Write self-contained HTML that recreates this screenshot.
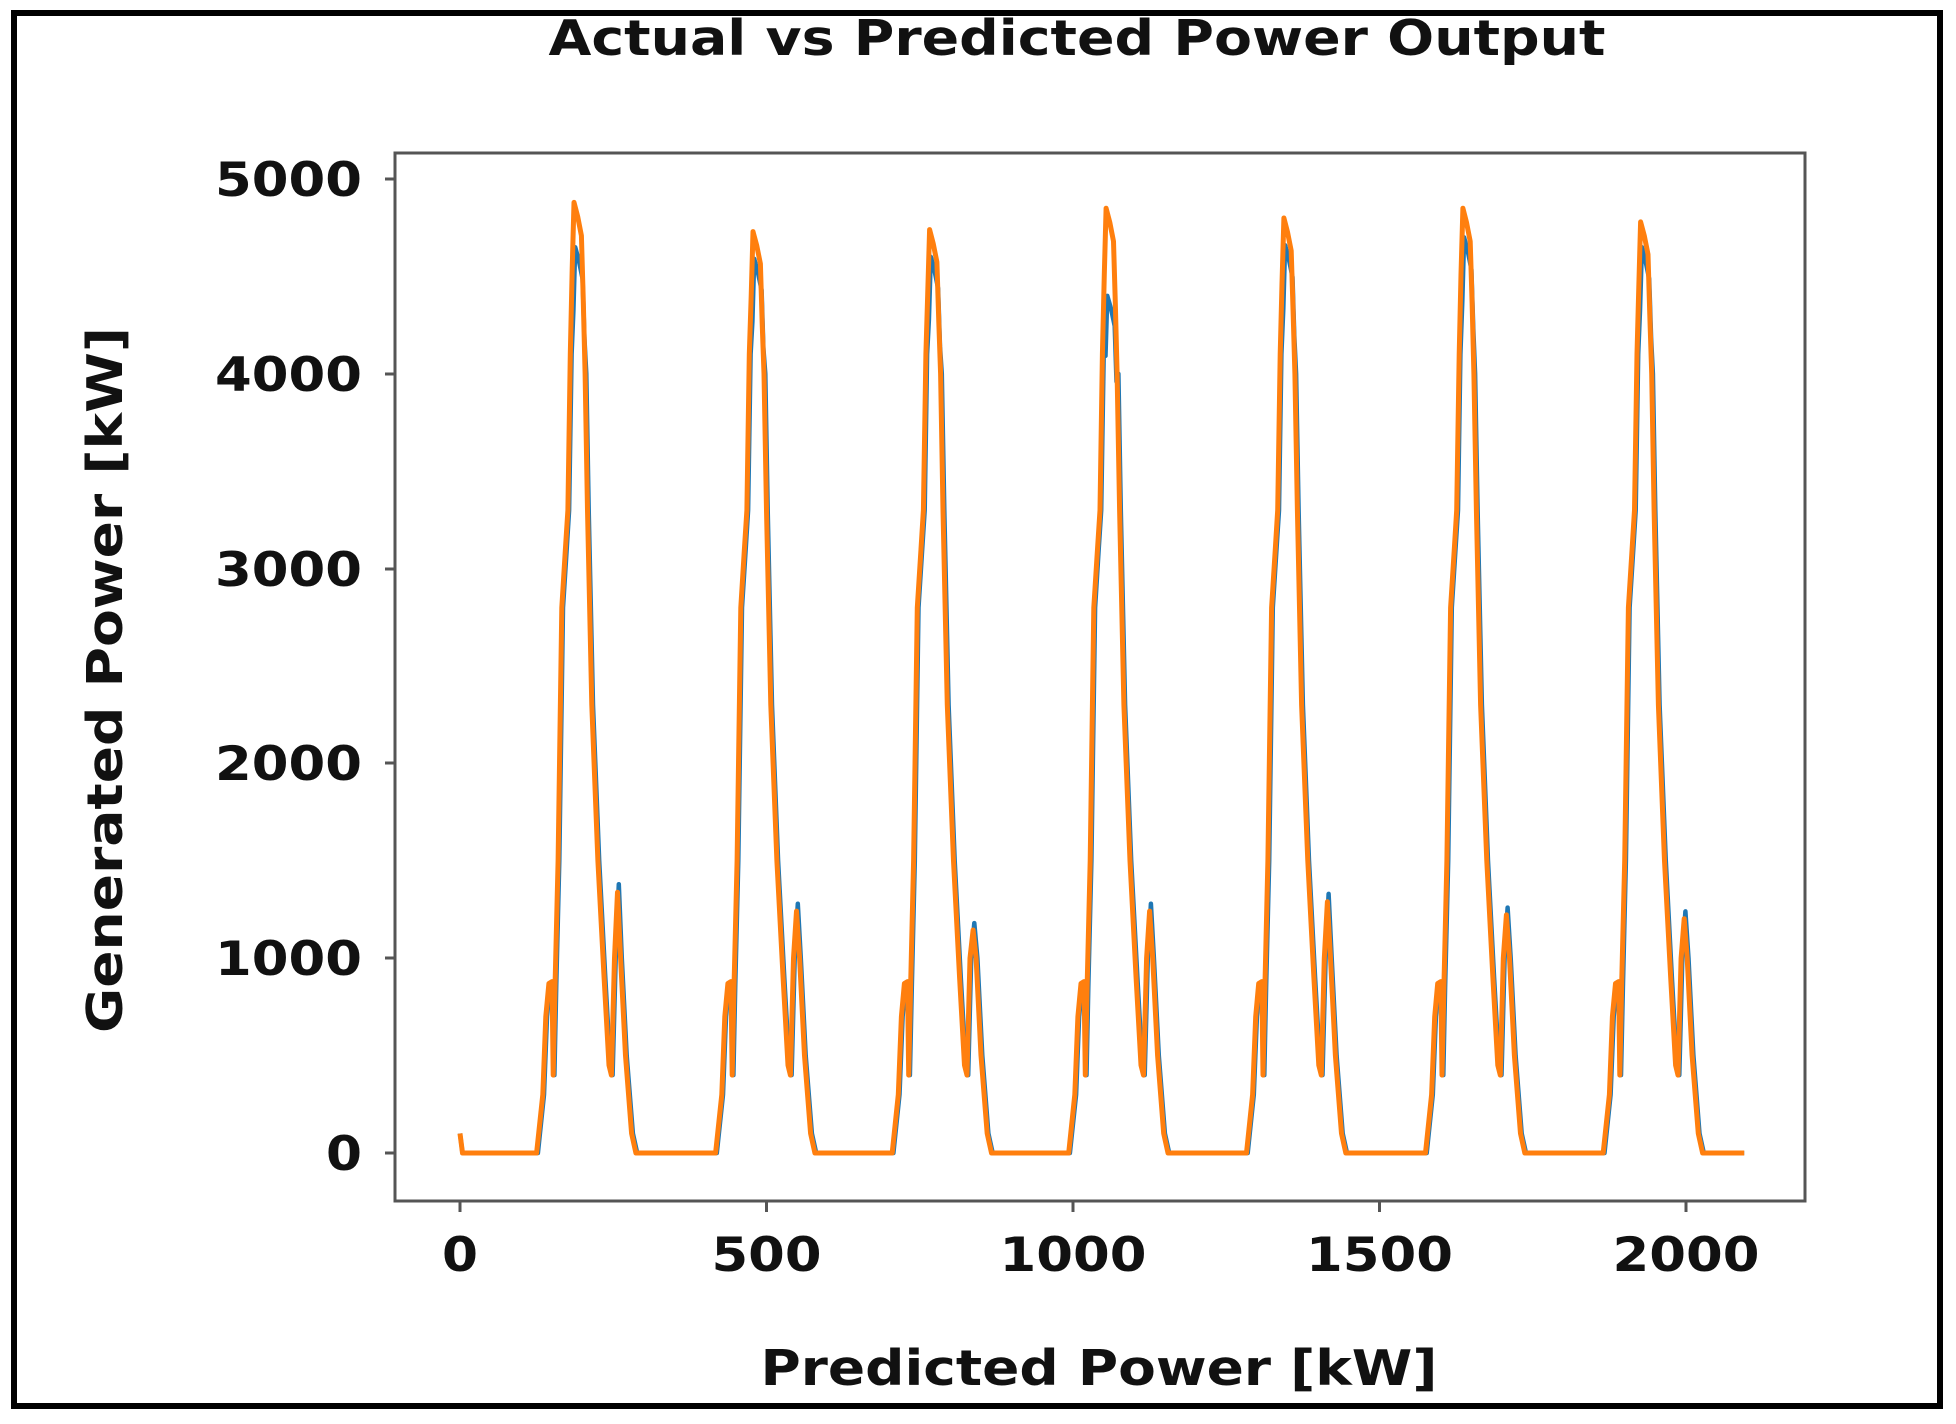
<!DOCTYPE html>
<html><head><meta charset="utf-8">
<style>
html,body{margin:0;padding:0;background:#fff;}
body{width:1956px;height:1419px;overflow:hidden;}
svg text{font-family:"DejaVu Sans","Liberation Sans",sans-serif;font-weight:bold;fill:#111;}
</style></head>
<body>
<svg id="s" width="1956" height="1419" viewBox="0 0 1956 1419" xmlns="http://www.w3.org/2000/svg">
<rect x="0" y="0" width="1956" height="1419" fill="#fff"/>
<rect x="14" y="13" width="1926" height="1393" fill="none" stroke="#000" stroke-width="6"/>
<text x="1077" y="55" font-size="49" text-anchor="middle" textLength="1057" lengthAdjust="spacingAndGlyphs">Actual vs Predicted Power Output</text>
<g id="plot"></g>
<rect x="395" y="153" width="1410" height="1048" fill="none" stroke="#555" stroke-width="3"/>
<g stroke="#555" stroke-width="3">
<line x1="385" y1="179" x2="395" y2="179"/>
<line x1="385" y1="374" x2="395" y2="374"/>
<line x1="385" y1="569" x2="395" y2="569"/>
<line x1="385" y1="763" x2="395" y2="763"/>
<line x1="385" y1="958" x2="395" y2="958"/>
<line x1="385" y1="1153" x2="395" y2="1153"/>
<line x1="460" y1="1201" x2="460" y2="1212"/>
<line x1="766.5" y1="1201" x2="766.5" y2="1212"/>
<line x1="1073" y1="1201" x2="1073" y2="1212"/>
<line x1="1379.5" y1="1201" x2="1379.5" y2="1212"/>
<line x1="1686" y1="1201" x2="1686" y2="1212"/>
</g>
<g font-size="47" text-anchor="end">
<text x="362" y="196" textLength="147" lengthAdjust="spacingAndGlyphs">5000</text>
<text x="362" y="391" textLength="147" lengthAdjust="spacingAndGlyphs">4000</text>
<text x="362" y="586" textLength="147" lengthAdjust="spacingAndGlyphs">3000</text>
<text x="362" y="780" textLength="147" lengthAdjust="spacingAndGlyphs">2000</text>
<text x="362" y="975" textLength="147" lengthAdjust="spacingAndGlyphs">1000</text>
<text x="362" y="1170" textLength="36" lengthAdjust="spacingAndGlyphs">0</text>
</g>
<g font-size="47" text-anchor="middle">
<text x="460" y="1271" textLength="36" lengthAdjust="spacingAndGlyphs">0</text>
<text x="766.5" y="1271" textLength="110" lengthAdjust="spacingAndGlyphs">500</text>
<text x="1073" y="1271" textLength="147" lengthAdjust="spacingAndGlyphs">1000</text>
<text x="1379.5" y="1271" textLength="147" lengthAdjust="spacingAndGlyphs">1500</text>
<text x="1686" y="1271" textLength="147" lengthAdjust="spacingAndGlyphs">2000</text>
</g>
<text x="1099" y="1385" font-size="49" text-anchor="middle" textLength="677" lengthAdjust="spacingAndGlyphs">Predicted Power [kW]</text>
<text transform="translate(122,680) rotate(-90)" font-size="49" text-anchor="middle" textLength="706" lengthAdjust="spacingAndGlyphs">Generated Power [kW]</text>
</svg>
<script>
(function(){
var X=function(u){return 460+u*0.613;}, Y=function(v){return 1153-v*0.1948;};
var base=[[0,0],[125,0],[135,300],[140,700],[145,870],[150,880],[152,400],[155,850],[160,1500],[166,2800],[172,3100],[176,3300],[180,4100],[183,-0.93],[186,1],[192,0.985],[198,0.965],[201,-0.9],[204,4000],[208,3300],[215,2300],[225,1500],[235,900],[243,450],[247,400],[252,1000],[257,1350],[262,1000],[270,500],[280,100],[287,0]];
var offs=[0,292,580,868,1158,1450,1740];
var opk=[4880,4730,4740,4850,4800,4850,4780];
var bpk=[4650,4590,4600,4400,4660,4700,4650];
var spk=[1380,1280,1180,1280,1330,1260,1240];
function build(pk,shift,spikeScale){
  var pts=[[X(0),Y(100)],[X(4),Y(0)]];
  for(var d=0;d<7;d++){
    for(var i=1;i<base.length;i++){
      var u=base[i][0],v=base[i][1];
      if(v<0)v=pk[d]*(-v);
      else if(u>=186&&u<=198)v=pk[d]*v;
      if(u==257)v=spk[d]*spikeScale;
      pts.push([X(offs[d]+u+shift),Y(v)]);
    }
  }
  pts.push([X(2095),Y(0)]);
  return pts.map(function(p){return p[0].toFixed(1)+","+p[1].toFixed(1);}).join(" ");
}
var g=document.getElementById("plot");
var ns="http://www.w3.org/2000/svg";
var b=document.createElementNS(ns,"polyline");
b.setAttribute("points",build(bpk,2,1.0));
b.setAttribute("fill","none");b.setAttribute("stroke","#1f77b4");b.setAttribute("stroke-width","4.5");b.setAttribute("stroke-linejoin","round");
g.appendChild(b);
var o=document.createElementNS(ns,"polyline");
o.setAttribute("points",build(opk,0,0.97));
o.setAttribute("fill","none");o.setAttribute("stroke","#ff7f0e");o.setAttribute("stroke-width","5");o.setAttribute("stroke-linejoin","round");
g.appendChild(o);
})();
</script>
</body></html>
